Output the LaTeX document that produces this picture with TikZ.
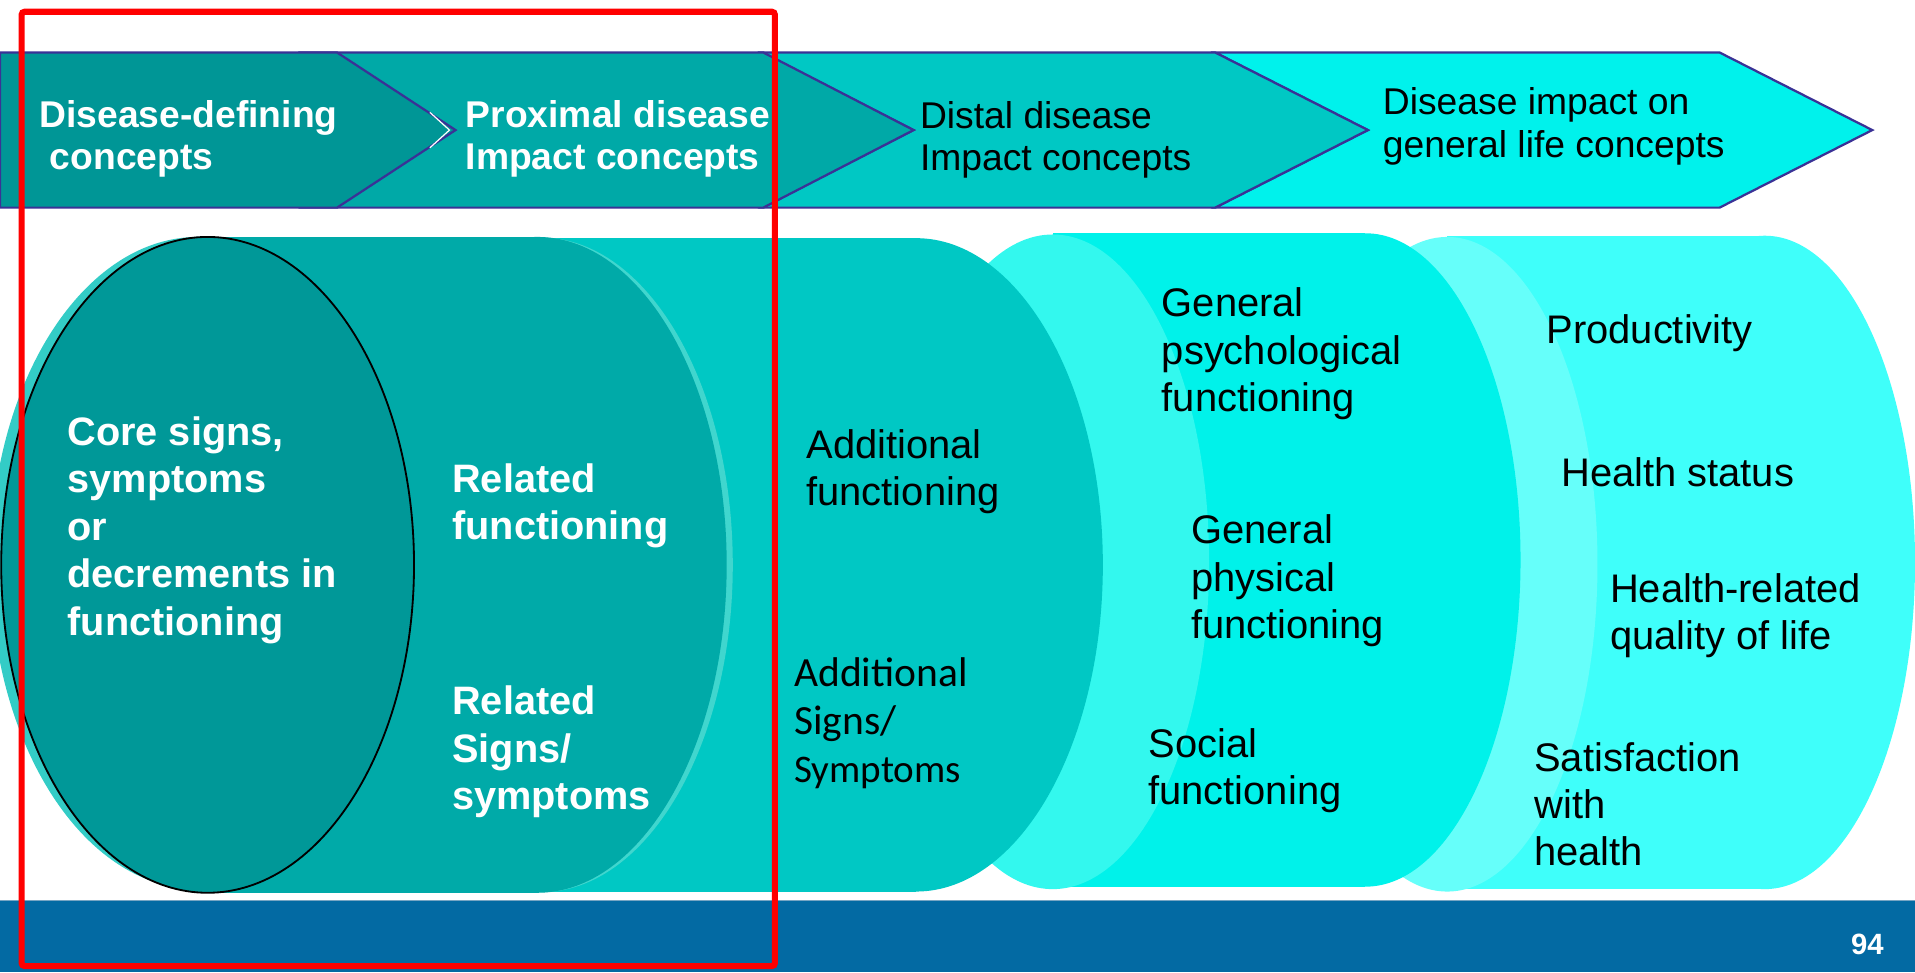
\documentclass[tikz,border=0pt]{standalone}
\usepackage{fontspec}
\setmainfont{Liberation Sans}
\newfontfamily\calib{Carlito}
\definecolor{chevline}{RGB}{58,50,150}
\definecolor{chA}{RGB}{0,150,150}
\definecolor{chB}{RGB}{0,169,167}
\definecolor{chC}{RGB}{0,200,196}
\definecolor{chD}{RGB}{0,242,236}
\definecolor{coreC}{RGB}{0,152,152}
\definecolor{capA}{RGB}{51,204,198}
\definecolor{bodyA}{RGB}{0,170,168}
\definecolor{capB}{RGB}{64,214,206}
\definecolor{bodyB}{RGB}{0,200,196}
\definecolor{capC}{RGB}{51,248,238}
\definecolor{bodyC}{RGB}{0,242,234}
\definecolor{capD}{RGB}{102,255,250}
\definecolor{bodyD}{RGB}{63,255,250}
\definecolor{bandC}{RGB}{3,106,163}
\definecolor{bandL}{RGB}{120,165,195}
\begin{document}
\begin{tikzpicture}[x=0.6pt,y=-0.6pt,
  chev/.style={draw=chevline,line width=1.1pt,line join=miter},
  hw/.style={anchor=base west,inner sep=0pt,align=left,text=white,font=\fontsize{18.3}{21}\selectfont\bfseries},
  hk/.style={anchor=base west,inner sep=0pt,align=left,text=black,font=\fontsize{18.3}{21}\selectfont},
  bw/.style={anchor=base west,inner sep=0pt,align=left,text=white,font=\fontsize{19.5}{23.3}\selectfont\bfseries},
  bk/.style={anchor=base west,inner sep=0pt,align=left,text=black,font=\fontsize{19.6}{23.3}\selectfont},
  ck/.style={anchor=base west,inner sep=0pt,align=left,text=black,font=\calib\fontsize{20.4}{23.6}\selectfont}]
\useasboundingbox (0,0) rectangle (1568,796);
\fill[white] (0,0) rectangle (1568,796);
\begin{scope}
\clip (0,0) rectangle (1568,796);
% ---- banner chevrons (back to front)
\filldraw[chev,fill=chD] (995,43) -- (1408,43) -- (1533,106.5) -- (1408,170) -- (995,170) -- (1120,106.5) -- cycle;
\filldraw[chev,fill=chC] (624,43) -- (995,43) -- (1120,106.5) -- (995,170) -- (624,170) -- (748,106.5) -- cycle;
\filldraw[chev,fill=chB] (247,43) -- (625,43) -- (748,106.5) -- (625,170) -- (247,170) -- (340,106.5) -- cycle;
\filldraw[chev,fill=chA] (0,43) -- (276,43) -- (373,106.5) -- (276,170) -- (0,170) -- cycle;
\draw[white,line width=0.6pt] (352,92) -- (368,106.5) -- (352,121);
% ---- cylinder D
\fill[bodyD] (1185,193) rectangle (1445,728);
\fill[bodyD] (1445,460.5) ellipse [x radius=123, y radius=267.5];
\fill[capD] (1185,462) ellipse [x radius=123, y radius=268];
% ---- cylinder C
\fill[bodyC] (862,191) rectangle (1118,726);
\fill[bodyC] (1118,458.5) ellipse [x radius=127, y radius=267.5];
\fill[capC] (862,460) ellipse [x radius=128, y radius=268];
% ---- cylinder B
\fill[bodyB] (444,195) rectangle (750,730);
\fill[bodyB] (750,462.5) ellipse [x radius=153, y radius=267.5];
\fill[capB] (443,462.5) ellipse [x radius=157, y radius=268];
% ---- cylinder A
\fill[bodyA] (162,194) rectangle (440,731);
\fill[bodyA] (440,462.5) ellipse [x radius=155, y radius=268.5];
\fill[capA] (162,461) ellipse [x radius=170, y radius=267];
\filldraw[fill=coreC,draw=black,line width=0.9pt] (170,462.5) ellipse [x radius=169, y radius=268.5];
% ---- bottom band
\fill[bandC] (0,737) rectangle (1568,796);
\draw[bandL,line width=0.7pt] (0,737.5) -- (1568,737.5);
\end{scope}
% ---- banner texts (anchor = baseline of last line)
\node[hw] (t1) at (32,139) {Disease-defining\\\hspace*{0.28em}concepts};
\node[hw] (t2) at (381,139) {Proximal disease\\Impact concepts};
\node[hk] (t3) at (753,140) {Distal disease\\Impact concepts};
\node[hk] (t4) at (1132,129) {Disease impact on\\general life concepts};
% ---- cylinder texts
\node[bw] (core) at (55,520) {Core signs,\\symptoms\\or\\decrements in\\functioning};
\node[bw] (relf) at (370,442) {Related\\functioning};
\node[bw] (rels) at (370,663) {Related\\Signs/\\symptoms};
\node[bk] (addf) at (660,414) {Additional\\functioning};
\node[ck] (adds) at (650,641) {Additional\\Signs/\\{\fontsize{19.2}{23.6}\selectfont Symptoms}};
\node[bk] (gpsy) at (951,337) {General\\psychological\\functioning};
\node[bk] (gphy) at (975,523) {General\\physical\\functioning};
\node[bk] (soc) at (940,659) {Social\\functioning};
\node[bk] (prod) at (1266,281) {Productivity};
\node[bk] (hs) at (1278,398) {Health status};
\node[bk] (hrq) at (1318,532) {Health-related\\quality of life};
\node[bk] (sat) at (1256,709) {Satisfaction\\with\\health};
\node[text=white,font=\fontsize{14.4}{16}\selectfont\bfseries,inner sep=0pt] (pg) at (1529,773) {94};
% ---- red highlight frame
\draw[red,line width=3pt,rounded corners=1.5] (17.7,9.6) rectangle (634.5,791);
\end{tikzpicture}
\end{document}
